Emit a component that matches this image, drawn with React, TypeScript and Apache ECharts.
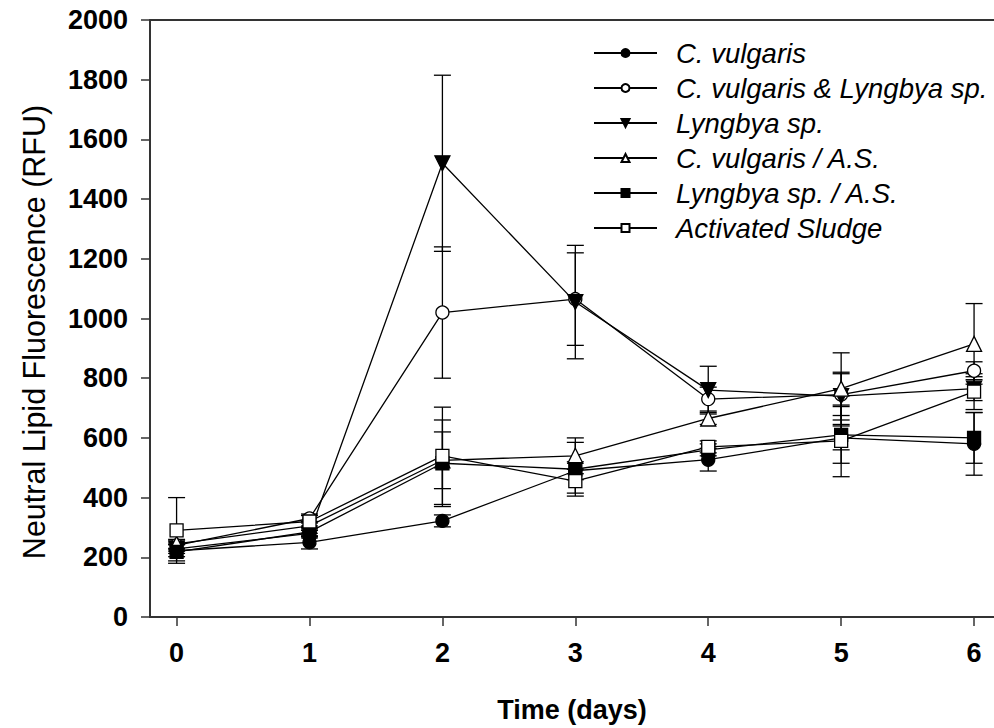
import React, { useEffect, useRef } from "react";
import * as echarts from "echarts";

const days = [0, 1, 2, 3, 4, 5, 6];
const seriesNames = [
  "C. vulgaris",
  "C. vulgaris & Lyngbya sp.",
  "Lyngbya sp.",
  "C. vulgaris / A.S.",
  "Lyngbya sp. / A.S.",
  "Activated Sludge",
];
const cVulgaris = [222, 250, 322, 490, 527, 600, 580];
const cVulgarisErr = [20, 22, 20, 30, 38, 40, 105];
const cvLyngbya = [240, 330, 1020, 1065, 730, 745, 825];
const cvLyngbyaErr = [15, 15, 220, 155, 40, 70, 30];
const lyngbya = [228, 280, 1520, 1055, 760, 740, 765];
const lyngbyaErr = [15, 15, 295, 190, 80, 80, 40];
const cvAS = [245, 305, 525, 540, 665, 765, 915];
const cvASErr = [15, 15, 95, 60, 20, 120, 135];
const lyngbyaAS = [218, 285, 515, 495, 560, 610, 600];
const lyngbyaASErr = [30, 15, 145, 90, 20, 95, 85];
const activatedSludge = [290, 320, 540, 455, 570, 590, 755];
const activatedSludgeErr = [110, 20, 163, 40, 20, 120, 60];
const yTicks = [0, 200, 400, 600, 800, 1000, 1200, 1400, 1600, 1800, 2000];
const yTitle = "Neutral Lipid Fluorescence (RFU)";

const values = [cVulgaris, cvLyngbya, lyngbya, cvAS, lyngbyaAS, activatedSludge];
const errors = [cVulgarisErr, cvLyngbyaErr, lyngbyaErr, cvASErr, lyngbyaASErr, activatedSludgeErr];
const symbols = [
  { symbol: "circle", fill: "#000" },
  { symbol: "circle", fill: "#fff" },
  { symbol: "path://M0,0 L10,0 L5,9 Z", fill: "#000" },
  { symbol: "triangle", fill: "#fff" },
  { symbol: "rect", fill: "#000" },
  { symbol: "rect", fill: "#fff" },
];

const FONT = '"Liberation Sans", Arial, sans-serif';

export default function App() {
  const ref = useRef<HTMLDivElement>(null);
  useEffect(() => {
    if (!ref.current) return;
    const chart = echarts.init(ref.current, null, { renderer: "svg" });

    const errSeries = values.map((vals, si) => ({
      type: "custom",
      z: 1,
      silent: true,
      data: days.map((d, i) => [d, vals[i] - errors[si][i], vals[i] + errors[si][i]]),
      encode: { x: 0, y: [1, 2] },
      renderItem: (params: any, api: any) => {
        const x = api.value(0);
        const lo = api.coord([x, api.value(1)]);
        const hi = api.coord([x, api.value(2)]);
        const hw = 8.5;
        const st = { stroke: "#000", lineWidth: 1.3 };
        return {
          type: "group",
          children: [
            { type: "line", shape: { x1: lo[0], y1: lo[1], x2: hi[0], y2: hi[1] }, style: st },
            { type: "line", shape: { x1: lo[0] - hw, y1: lo[1], x2: lo[0] + hw, y2: lo[1] }, style: st },
            { type: "line", shape: { x1: hi[0] - hw, y1: hi[1], x2: hi[0] + hw, y2: hi[1] }, style: st },
          ],
        };
      },
    }));

    const lineSeries = values.map((vals, si) => ({
      type: "line",
      name: seriesNames[si],
      z: 3,
      data: days.map((d, i) => [d, vals[i]]),
      symbol: symbols[si].symbol,
      symbolSize: si === 2 || si === 3 ? 15 : 13,
      showAllSymbol: true,
      lineStyle: { color: "#000", width: 1.3 },
      itemStyle: { color: symbols[si].fill, borderColor: "#000", borderWidth: 1.3 },
      emphasis: { disabled: true },
    }));

    chart.setOption({
      animation: false,
      backgroundColor: "#fff",
      textStyle: { fontFamily: FONT },
      grid: { left: 150, top: 20, width: 845, height: 597 },
      graphic: [
        {
          type: "text",
          x: 34,
          y: 332,
          rotation: Math.PI / 2,
          style: {
            text: yTitle,
            fontFamily: FONT,
            fontSize: 30.5,
            fill: "#000",
            align: "center",
            verticalAlign: "middle",
          },
        },
      ],
      legend: {
        data: seriesNames,
        orient: "vertical",
        left: 593,
        top: 38,
        padding: 0,
        itemWidth: 63,
        itemHeight: 10,
        itemGap: 5,
        selectedMode: false,
        textStyle: {
          fontFamily: FONT,
          fontStyle: "italic",
          fontSize: 27.5,
          color: "#000",
          lineHeight: 30,
          padding: [0, 0, 0, 14],
        },
      },
      xAxis: [
        {
          type: "value",
          min: -0.2,
          max: 6.15,
          name: "Time (days)",
          nameLocation: "middle",
          nameGap: 79,
          nameTextStyle: { fontFamily: FONT, fontWeight: "bold", fontSize: 27, color: "#000" },
          axisLine: { show: true, onZero: false, lineStyle: { color: "#333", width: 2 } },
          axisTick: { show: true, length: 9, customValues: days, lineStyle: { color: "#333", width: 1.5 } },
          axisLabel: {
            customValues: days,
            margin: 22,
            fontFamily: FONT,
            fontWeight: "bold",
            fontSize: 27,
            color: "#000",
          },
          splitLine: { show: false },
        },
        {
          type: "value",
          position: "top",
          min: -0.2,
          max: 6.15,
          axisLine: { show: true, onZero: false, lineStyle: { color: "#333", width: 2 } },
          axisTick: { show: false },
          axisLabel: { show: false },
          splitLine: { show: false },
        },
      ],
      yAxis: {
        type: "value",
        min: yTicks[0],
        max: yTicks[yTicks.length - 1],
        interval: 200,
        axisLine: { show: true, onZero: false, lineStyle: { color: "#333", width: 2 } },
        axisTick: { show: true, length: 9, lineStyle: { color: "#333", width: 1.5 } },
        axisLabel: {
          margin: 22,
          fontFamily: FONT,
          fontWeight: "bold",
          fontSize: 27,
          color: "#000",
          formatter: (v: number) => String(v),
        },
        splitLine: { show: false },
      },
      series: [...errSeries, ...lineSeries],
    });
    return () => chart.dispose();
  }, []);
  return (
    <div
      ref={ref}
      style={{ position: "fixed", left: 0, top: 0, width: 994, height: 728, background: "#fff" }}
    />
  );
}
